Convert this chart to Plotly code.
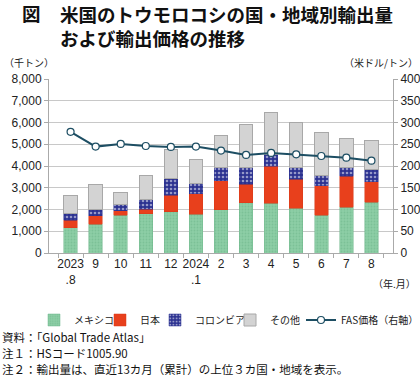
import plotly.graph_objects as go

categories = ["2023<br>.8", "9", "10", "11", "12", "2024<br>.1", "2", "3", "4", "5", "6", "7", "8"]
mexico = [1170, 1320, 1740, 1800, 1890, 1780, 1980, 2310, 2280, 2060, 1740, 2110, 2340]
japan = [340, 390, 200, 220, 760, 940, 1340, 860, 1720, 1340, 1350, 1410, 940]
colombia = [305, 310, 310, 460, 770, 480, 620, 750, 540, 540, 480, 420, 580]
others = [845, 1130, 530, 1100, 1320, 1110, 1440, 2000, 1920, 2060, 1950, 1320, 1310]
fas_price = [278.5, 244.6, 250.8, 246, 243.8, 244.6, 235.4, 225.4, 230, 226.9, 223, 219.2, 212.3]

left_ticks = [0, 1000, 2000, 3000, 4000, 5000, 6000, 7000, 8000]
left_tick_text = ["0", "1,000", "2,000", "3,000", "4,000", "5,000", "6,000", "7,000", "8,000"]
right_ticks = [0, 50, 100, 150, 200, 250, 300, 350, 400]

JP = "Noto Sans CJK JP"
NUM = "Liberation Sans, Arial, sans-serif"

fig = go.Figure()
fig.add_bar(x=categories, y=mexico, name="メキシコ", legend="legend",
            marker=dict(color="#86c9a0", line=dict(color="#6fb78c", width=0.5),
                        pattern=dict(shape=".", fgcolor="#6cb68a", bgcolor="#8ccda5", size=3, solidity=0.3)))
fig.add_bar(x=categories, y=japan, name="日本", legend="legend2",
            marker=dict(color="#e8401c", line=dict(color="#d83a18", width=0.5)))
fig.add_bar(x=categories, y=colombia, name="コロンビア", legend="legend3",
            marker=dict(color="#2b3190", line=dict(color="#2b3190", width=0.5),
                        pattern=dict(shape=".", fgcolor="#ffffff", bgcolor="#2b3190", size=4, solidity=0.35)))
fig.add_bar(x=categories, y=others, name="その他", legend="legend4",
            marker=dict(color="#d3d3d3", line=dict(color="#a8a8a8", width=1)))
fig.add_scatter(x=categories, y=fas_price, name="FAS価格（右軸）", yaxis="y2", mode="lines+markers",
                legend="legend5",
                line=dict(color="#1d4e63", width=2),
                marker=dict(symbol="circle", size=7, color="white", line=dict(color="#1d4e63", width=1.2)))

leg_common = dict(orientation="h", yanchor="middle", y=(253 - 320) / 174, xanchor="left",
                  font=dict(family=JP, size=10, color="#222"), itemwidth=30,
                  tracegroupgap=0, traceorder="normal", bgcolor="rgba(0,0,0,0)")
leg_x = [34, 100, 155, 230, 301]

fig.update_layout(
    width=420, height=378,
    margin=dict(l=49, r=27, t=79, b=125, autoexpand=False),
    paper_bgcolor="white", plot_bgcolor="white",
    barmode="stack", bargap=0.46,
    font=dict(family=JP, size=12, color="#222"),
    showlegend=True,
    legend=dict(x=(leg_x[0] - 49) / 344, **leg_common),
    legend2=dict(x=(leg_x[1] - 49) / 344, **leg_common),
    legend3=dict(x=(leg_x[2] - 49) / 344, **leg_common),
    legend4=dict(x=(leg_x[3] - 49) / 344, **leg_common),
    legend5=dict(x=(leg_x[4] - 49) / 344, **leg_common),
    xaxis=dict(type="category", showgrid=False, showline=True, linecolor="#aaaaaa",
               ticks="outside", tickson="boundaries", ticklen=4, tickcolor="#aaaaaa",
               tickangle=0, automargin=False,
               tickfont=dict(family=NUM, size=12, color="#222"), fixedrange=True),
    yaxis=dict(range=[0, 8000], tickvals=left_ticks, ticktext=left_tick_text,
               showgrid=True, gridcolor="#c8c8c8", gridwidth=1, automargin=False,
               showline=True, linecolor="#aaaaaa", ticks="outside", ticklen=4, tickcolor="#aaaaaa",
               tickfont=dict(family=NUM, size=12, color="#222"), zeroline=False),
    yaxis2=dict(range=[0, 400], tickvals=right_ticks, overlaying="y", side="right",
                showgrid=False, showline=True, linecolor="#aaaaaa", ticks="outside", ticklen=4,
                automargin=False,
                tickcolor="#aaaaaa", tickfont=dict(family=NUM, size=12, color="#222"), zeroline=False),
)

fig.add_annotation(text="<b>図</b>", xref="paper", yref="paper",
                   x=(20 - 49) / 344, y=(253 - 13) / 174,
                   xanchor="left", yanchor="middle", showarrow=False,
                   font=dict(family=JP, size=18.5, color="#111"))
fig.add_annotation(text="<b>米国のトウモロコシの国・地域別輸出量<br>および輸出価格の推移</b>",
                   xref="paper", yref="paper", align="left",
                   x=(58 - 49) / 344, y=(253 - 26) / 174,
                   xanchor="left", yanchor="middle", showarrow=False,
                   font=dict(family=JP, size=18.5, color="#111"))

small = [
    dict(text="（千トン）", x=2, y=62, anchor="left"),
    dict(text="（米ドル/トン）", x=420, y=62, anchor="right"),
    dict(text="（年.月）", x=418, y=283, anchor="right"),
]
for a in small:
    fig.add_annotation(text=a["text"], xref="paper", yref="paper",
                       x=(a["x"] - 49) / 344, y=(253 - a["y"]) / 174,
                       xanchor=a["anchor"], yanchor="middle", showarrow=False,
                       font=dict(family=JP, size=10, color="#222"))

notes = [
    ("資料：「Global Trade Atlas」", 337),
    ("注１：HSコード1005.90", 353),
    ("注２：輸出量は、直近13カ月（累計）の上位３カ国・地域を表示。", 369),
]
for t, yy in notes:
    fig.add_annotation(text=t, xref="paper", yref="paper",
                       x=(0 - 49) / 344, y=(253 - yy) / 174,
                       xanchor="left", yanchor="middle", showarrow=False,
                       font=dict(family=JP, size=11.5, color="#111"))

fig.write_html("out.html", config={"displayModeBar": False},
               post_script="document.body.style.margin='0';document.body.style.overflow='hidden';")
